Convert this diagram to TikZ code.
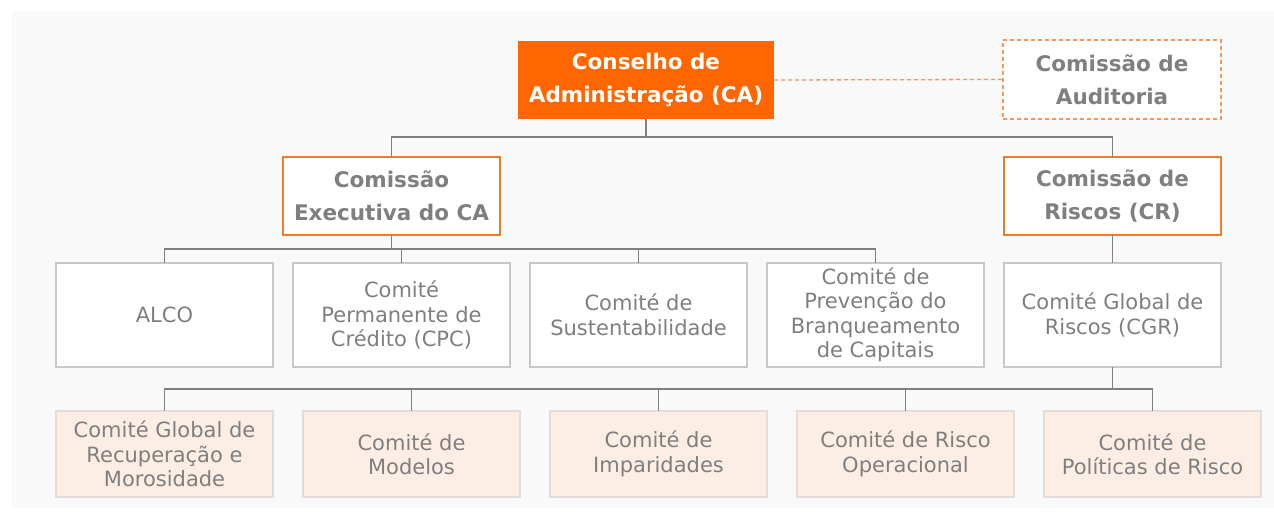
\documentclass[tikz,border=0pt]{standalone}
\usepackage{fontspec}
\setmainfont{DejaVu Sans}
\usetikzlibrary{positioning}

\definecolor{laranja}{HTML}{FF6600}
\definecolor{laranjaborda}{HTML}{F47A2E}
\definecolor{laranjatraco}{HTML}{F7955A}
\definecolor{cinza}{HTML}{7F7F7F}
\definecolor{cinzalinha}{HTML}{808080}
\definecolor{cinzaborda}{HTML}{C8C8C8}
\definecolor{pessego}{HTML}{FDEEE5}
\definecolor{pessegoborda}{HTML}{E3DCD8}
\definecolor{fundo}{HTML}{F9F9F9}

\tikzset{
  caixa/.style={rectangle,inner sep=0pt,outer sep=0pt,align=center,minimum width=217pt},
  negrito/.style={caixa,font=\fontsize{21.5}{33}\selectfont\bfseries,text=cinza,minimum height=78pt},
  conselho/.style={negrito,fill=laranja,text=white,minimum width=256pt},
  comissao/.style={negrito,draw=laranjaborda,line width=1.3pt,fill=white},
  auditoria/.style={negrito,draw=laranjatraco,line width=1.3pt,dash pattern=on 4pt off 3pt,fill=white,minimum width=218pt,minimum height=79pt},
  comite/.style={caixa,font=\fontsize{21}{24.5}\selectfont,text=cinza,draw=cinzaborda,line width=1.2pt,fill=white,minimum height=104pt},
  subcomite/.style={comite,fill=pessego,draw=pessegoborda,minimum height=86pt},
  ligacao/.style={draw=cinzalinha,line width=1.3pt},
  tracejado/.style={draw=laranjatraco,line width=1.3pt,dash pattern=on 4pt off 3pt}
}

\begin{document}
\begin{tikzpicture}[x=1pt,y=-1pt]

\useasboundingbox (0,0) rectangle (1274,518);
\fill[fundo] (12,11) rectangle (1274,508);

% topo
\node[conselho]   (ca)   at (646,80)      {Conselho de\\Administração (CA)};
\node[auditoria]  (aud)  at (1112,79.5)   {Comissão de\\Auditoria};

% comites
\node[comite]     (alco) at (164.5,315)   {ALCO};
\node[comite]     (cpc)  [right=20pt of alco]  {Comité\\Permanente de\\Crédito (CPC)};
\node[comite]     (sust) [right=20pt of cpc]   {Comité de\\Sustentabilidade};
\node[comite]     (prev) [right=20pt of sust]  {Comité de\\Prevenção do\\Branqueamento\\de Capitais};
\node[comite]     (cgr)  [right=20pt of prev]  {Comité Global de\\Riscos (CGR)};

% comissoes
\node[comissao]   (exec) at (391.5,196)   {Comissão\\Executiva do CA};
\node[comissao]   (cr)   [above=28pt of cgr]   {Comissão de\\Riscos (CR)};

% sub-comites do CGR
\node[subcomite]  (recup) at (164.5,454)  {Comité Global de\\Recuperação e\\Morosidade};
\node[subcomite]  (mod)   [right=30pt of recup] {Comité de\\Modelos};
\node[subcomite]  (imp)   [right=30pt of mod]   {Comité de\\Imparidades};
\node[subcomite]  (rop)   [right=30pt of imp]   {Comité de Risco\\Operacional};
\node[subcomite]  (pol)   [right=30pt of rop]   {Comité de\\Políticas de Risco};

\path[tracejado] (ca.east) -- (aud.west);

\path[ligacao] (ca.south) -- ++(0,18)
               (exec.north) -- ++(0,-20) -| (cr.north);

\path[ligacao] (exec.south) -- ++(0,14)
               (alco.north) -- ++(0,-14) -| (prev.north)
               (cpc.north) -- ++(0,-14)
               (sust.north) -- ++(0,-14)
               (cr.south) -- (cgr.north);

\path[ligacao] (cgr.south) -- ++(0,22)
               (recup.north) -- ++(0,-22) -| (pol.north)
               (mod.north) -- ++(0,-22)
               (imp.north) -- ++(0,-22)
               (rop.north) -- ++(0,-22);

\end{tikzpicture}
\end{document}
